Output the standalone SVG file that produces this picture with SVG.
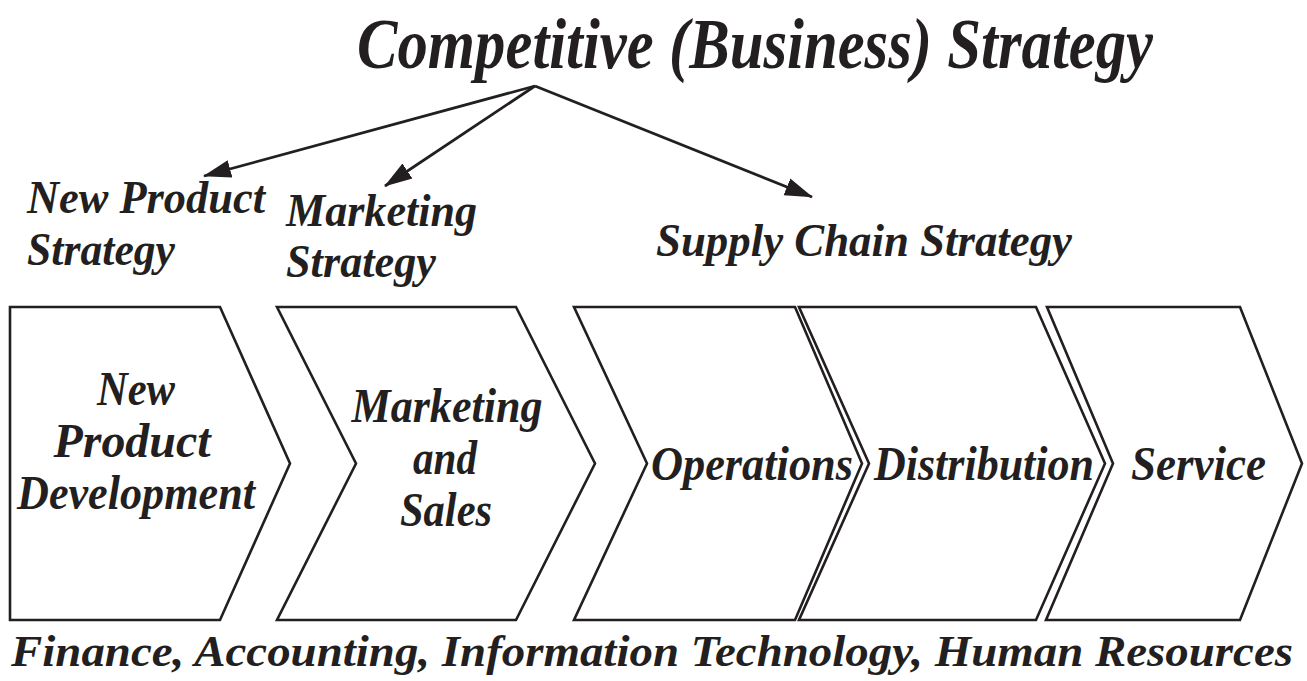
<svg xmlns="http://www.w3.org/2000/svg" width="1307" height="681" viewBox="0 0 1307 681">
<defs>
<style>
.t{font-family:"Liberation Serif","Times New Roman",Times,serif;font-weight:bold;font-style:italic;fill:#231f20}
.c{fill:#fff;stroke:#231f20;stroke-width:2.6;stroke-linejoin:miter}
.a{stroke:#231f20;stroke-width:2.8;fill:none}
</style>
<marker id="ah" markerUnits="userSpaceOnUse" markerWidth="28" markerHeight="20" viewBox="0 0 28 20" refX="27" refY="10" orient="auto">
<path d="M0,1 L28,10 L0,19 Z" fill="#231f20"/>
</marker>
</defs>
<rect width="1307" height="681" fill="#fff"/>
<g id="title"><text class="t" x="357" y="68" font-size="72" textLength="796" lengthAdjust="spacingAndGlyphs">Competitive (Business) Strategy</text></g>
<g id="connectors">
<line class="a" x1="535" y1="86" x2="204" y2="176" marker-end="url(#ah)"/>
<line class="a" x1="535" y1="86" x2="385" y2="186" marker-end="url(#ah)"/>
<line class="a" x1="535" y1="86" x2="812" y2="197" marker-end="url(#ah)"/>
</g>
<g id="lbl-newproduct" class="t" font-size="46">
<text x="27" y="213" textLength="238" lengthAdjust="spacingAndGlyphs">New Product</text>
<text x="27" y="265" textLength="148" lengthAdjust="spacingAndGlyphs">Strategy</text>
</g>
<g id="lbl-marketing" class="t" font-size="46">
<text x="286" y="226" textLength="191" lengthAdjust="spacingAndGlyphs">Marketing</text>
<text x="286" y="277" textLength="150" lengthAdjust="spacingAndGlyphs">Strategy</text>
</g>
<g id="lbl-supply" class="t" font-size="46">
<text x="656" y="256" textLength="416" lengthAdjust="spacingAndGlyphs">Supply Chain Strategy</text>
</g>
<g id="npd">
<path class="c" d="M10,307 H220 L290,463.5 L220,620 H10 Z"/>
<text class="t" font-size="48" text-anchor="middle" x="136" y="405" textLength="78" lengthAdjust="spacingAndGlyphs">New</text>
<text class="t" font-size="48" text-anchor="middle" x="132" y="457" textLength="157" lengthAdjust="spacingAndGlyphs">Product</text>
<text class="t" font-size="48" text-anchor="middle" x="136" y="509" textLength="238" lengthAdjust="spacingAndGlyphs">Development</text>
</g>
<g id="mks">
<path class="c" d="M277,307 H516 L595,463.5 L516,620 H277 L356,463.5 Z"/>
<text class="t" font-size="48" text-anchor="middle" x="447" y="422" textLength="191" lengthAdjust="spacingAndGlyphs">Marketing</text>
<text class="t" font-size="48" text-anchor="middle" x="445" y="474" textLength="64" lengthAdjust="spacingAndGlyphs">and</text>
<text class="t" font-size="48" text-anchor="middle" x="446" y="526" textLength="92" lengthAdjust="spacingAndGlyphs">Sales</text>
</g>
<g id="ops">
<path class="c" d="M574,307 H795 L862,463.5 L795,620 H574 L647,463.5 Z"/>
<text class="t" font-size="48" x="651" y="480" textLength="202" lengthAdjust="spacingAndGlyphs">Operations</text>
</g>
<g id="dist">
<path class="c" d="M799,307 H1036 L1105,463.5 L1036,620 H799 L869,463.5 Z"/>
<text class="t" font-size="48" x="874" y="480" textLength="220" lengthAdjust="spacingAndGlyphs">Distribution</text>
</g>
<g id="svc">
<path class="c" d="M1047,307 H1240 L1302,463.5 L1240,620 H1046 L1113,463.5 Z"/>
<text class="t" font-size="48" x="1131" y="480" textLength="135" lengthAdjust="spacingAndGlyphs">Service</text>
</g>
<g id="support"><text class="t" font-size="45" x="11" y="666" textLength="1282" lengthAdjust="spacingAndGlyphs">Finance, Accounting, Information Technology, Human Resources</text></g>
</svg>
